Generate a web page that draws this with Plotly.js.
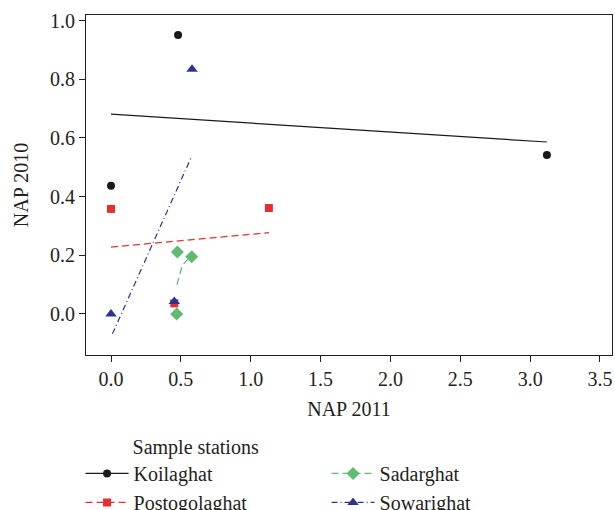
<!DOCTYPE html>
<html>
<head>
<meta charset="utf-8">
<script src="https://cdn.plot.ly/plotly-3.0.1.min.js"></script>
<style>html,body{margin:0;padding:0;background:#fff;}#chart{width:615px;height:510px;}</style>
</head>
<body>
<div id="chart"></div>
<script>
// Station names
const stations = ["Koilaghat", "Postogolaghat", "Sadarghat", "Sowarighat"];
// Observed points (NAP 2011 on x, NAP 2010 on y)
const koilX = [0.0, 0.48, 3.12];
const koilY = [0.437, 0.951, 0.542];
const postoX = [0.0, 0.453, 1.13];
const postoY = [0.358, 0.036, 0.361];
const sadarX = [0.47, 0.475, 0.578];
const sadarY = [0.0, 0.211, 0.195];
const sowaX = [0.0, 0.453, 0.58];
const sowaY = [0.0, 0.042, 0.834];
// Fitted lines
const koilFitX = [0.0, 3.12];
const koilFitY = [0.681, 0.586];
const postoFitX = [0.0, 1.13];
const postoFitY = [0.228, 0.277];
const sadarFitX = [0.472, 0.51, 0.555];
const sadarFitY = [0.10, 0.165, 0.19];
const sowaFitX = [0.01, 0.578];
const sowaFitY = [-0.068, 0.538];
// Tick labels
const xTicks = [0, 0.5, 1, 1.5, 2, 2.5, 3, 3.5];
const xTickText = ["0.0","0.5","1.0","1.5","2.0","2.5","3.0","3.5"];
const yTicks = [0, 0.2, 0.4, 0.6, 0.8, 1.0];
const yTickText = ["0.0","0.2","0.4","0.6","0.8","1.0"];

const colors = {k: "#1a1a1a", p: "#e3302f", s: "#5dbb72", w: "#2b3590"};
const FONT = "Liberation Serif, Times New Roman, serif";
const TXT = "#231f20";

function fit(x, y, c, dash) {
  return {x: x, y: y, type: "scatter", mode: "lines", showlegend: false, hoverinfo: "skip",
          line: {color: c, width: 1.2, dash: dash}};
}
function pts(x, y, c, sym, size) {
  return {x: x, y: y, type: "scatter", mode: "markers", showlegend: false,
          marker: {color: c, symbol: sym, size: size}};
}
function leg(name, c, sym, size, dash) {
  return {x: [null], y: [null], type: "scatter", mode: "lines+markers", name: name,
          line: {color: c, width: 1.2, dash: dash}, marker: {color: c, symbol: sym, size: size}};
}

const data = [
  fit(koilFitX, koilFitY, colors.k, "solid"),
  fit(postoFitX, postoFitY, colors.p, "7px,4px"),
  fit(sadarFitX, sadarFitY, colors.s, "7px,4px"),
  fit(sowaFitX, sowaFitY, colors.w, "6px,3px,1px,3px"),
  pts(koilX, koilY, colors.k, "circle", 8),
  pts(postoX, postoY, colors.p, "square", 8),
  pts(sadarX, sadarY, colors.s, "diamond", 10),
  pts(sowaX, sowaY, colors.w, "triangle-up", 10),
  leg(stations[0], colors.k, "circle", 8, "solid"),
  leg(stations[2], colors.s, "diamond", 10, "7px,4px"),
  leg(stations[1], colors.p, "square", 8, "7px,4px"),
  leg(stations[3], colors.w, "triangle-up", 10, "6px,3px,1px,3px")
];

const NB = "\u00a0";
const layout = {
  width: 615, height: 510,
  margin: {l: 86, r: 3, t: 15, b: 155},
  paper_bgcolor: "#fff", plot_bgcolor: "#fff",
  font: {family: FONT, size: 20, color: TXT},
  xaxis: {range: [-0.179, 3.586], tickvals: xTicks, ticktext: xTickText,
          showgrid: false, zeroline: false, showline: true, mirror: true, linecolor: TXT, linewidth: 1,
          ticks: "outside", ticklen: 6, tickcolor: TXT, tickfont: {size: 20},
          title: {text: "NAP 2011", font: {size: 20}, standoff: 12}},
  yaxis: {range: [-0.14, 1.019], tickvals: yTicks, ticktext: yTickText,
          showgrid: false, zeroline: false, showline: true, mirror: true, linecolor: TXT, linewidth: 1,
          ticks: "outside", ticklen: 6, tickcolor: TXT, tickfont: {size: 20},
          title: {text: "NAP 2010", font: {size: 20}, standoff: 16}},
  legend: {orientation: "h", xref: "container", x: 0.131, xanchor: "left", yref: "container", y: 0.161, yanchor: "top",
           title: {text: NB.repeat(10) + "Sample stations", side: "top", font: {size: 20}},
           font: {size: 20}, entrywidth: 188, itemwidth: 43, tracegroupgap: 0},
  showlegend: true
};

Plotly.newPlot("chart", data, layout, {displayModeBar: false, staticPlot: true});
</script>
</body>
</html>
